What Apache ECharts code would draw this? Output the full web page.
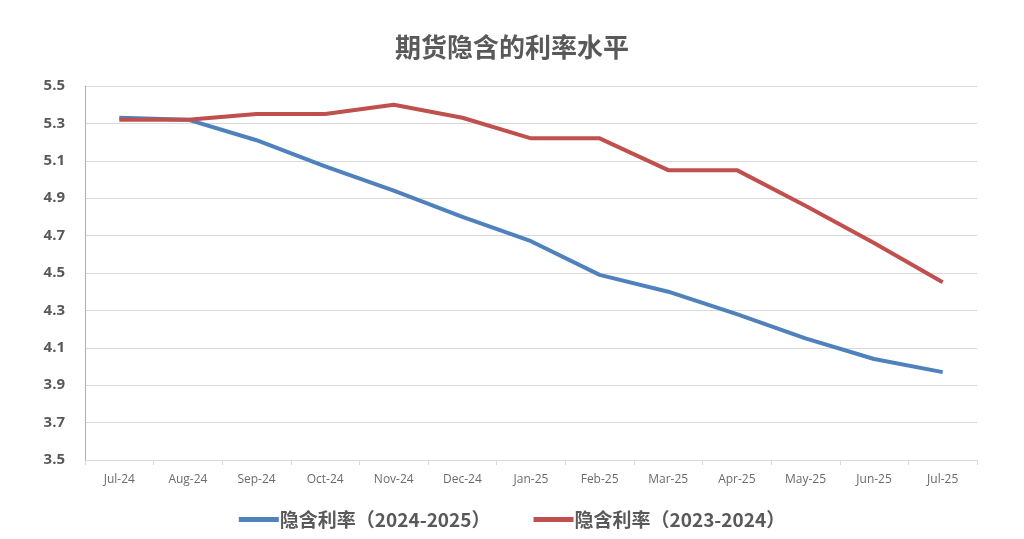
<!DOCTYPE html>
<html><head><meta charset="utf-8">
<script src="https://cdn.jsdelivr.net/npm/echarts@6/dist/echarts.min.js"></script>
<style>html,body{margin:0;padding:0;background:#fff}#c{width:1024px;height:539px}</style>
</head><body><div id="c"></div>
<script>
const categories = ['Jul-24','Aug-24','Sep-24','Oct-24','Nov-24','Dec-24','Jan-25','Feb-25','Mar-25','Apr-25','May-25','Jun-25','Jul-25'];
const series2425 = [5.33,5.32,5.21,5.07,4.94,4.80,4.67,4.49,4.40,4.28,4.15,4.04,3.97];
const series2324 = [5.32,5.32,5.35,5.35,5.40,5.33,5.22,5.22,5.05,5.05,4.86,4.66,4.45];
const seriesNames = ['隐含利率（2024-2025）','隐含利率（2023-2024）'];
const titleText = '期货隐含的利率水平';

const chart = echarts.init(document.getElementById('c'));
chart.setOption({
  animation:false,
  backgroundColor:'#fff',
  title:{text:titleText,left:'center',top:29,textStyle:{fontFamily:'Noto Sans CJK SC',fontSize:26,fontWeight:'bold',color:'#595959'}},
  grid:{left:85,right:47,top:86,bottom:79},
  legend:{bottom:5,left:'center',itemWidth:40,itemHeight:5,itemGap:43,icon:'rect',
    textStyle:{fontFamily:'Noto Sans CJK SC',fontSize:19,fontWeight:'bold',color:'#595959',padding:[0,0,0,-4]},data:seriesNames},
  xAxis:{type:'category',data:categories,boundaryGap:true,
    axisLine:{lineStyle:{color:'#d9d9d9'}},axisTick:{show:true,lineStyle:{color:'#d9d9d9'},length:5},
    axisLabel:{color:'#6b6b6b',fontSize:12,margin:14,fontFamily:'Open Sans'}},
  yAxis:{type:'value',min:3.5,max:5.5,interval:0.2,
    axisLine:{show:true,lineStyle:{color:'#9db3c8'}},axisTick:{show:false},
    splitLine:{lineStyle:{color:'#d9d9d9'}},
    axisLabel:{color:'#595959',fontSize:15,fontWeight:'bold',margin:20,fontFamily:'Open Sans',formatter:v=>v.toFixed(1)}},
  series:[
    {name:seriesNames[0],type:'line',data:series2425,symbol:'none',lineStyle:{width:4,color:'#4F81BD'},itemStyle:{color:'#4F81BD'}},
    {name:seriesNames[1],type:'line',data:series2324,symbol:'none',lineStyle:{width:4,color:'#C0504D'},itemStyle:{color:'#C0504D'},z:3}
  ]
});
</script></body></html>
